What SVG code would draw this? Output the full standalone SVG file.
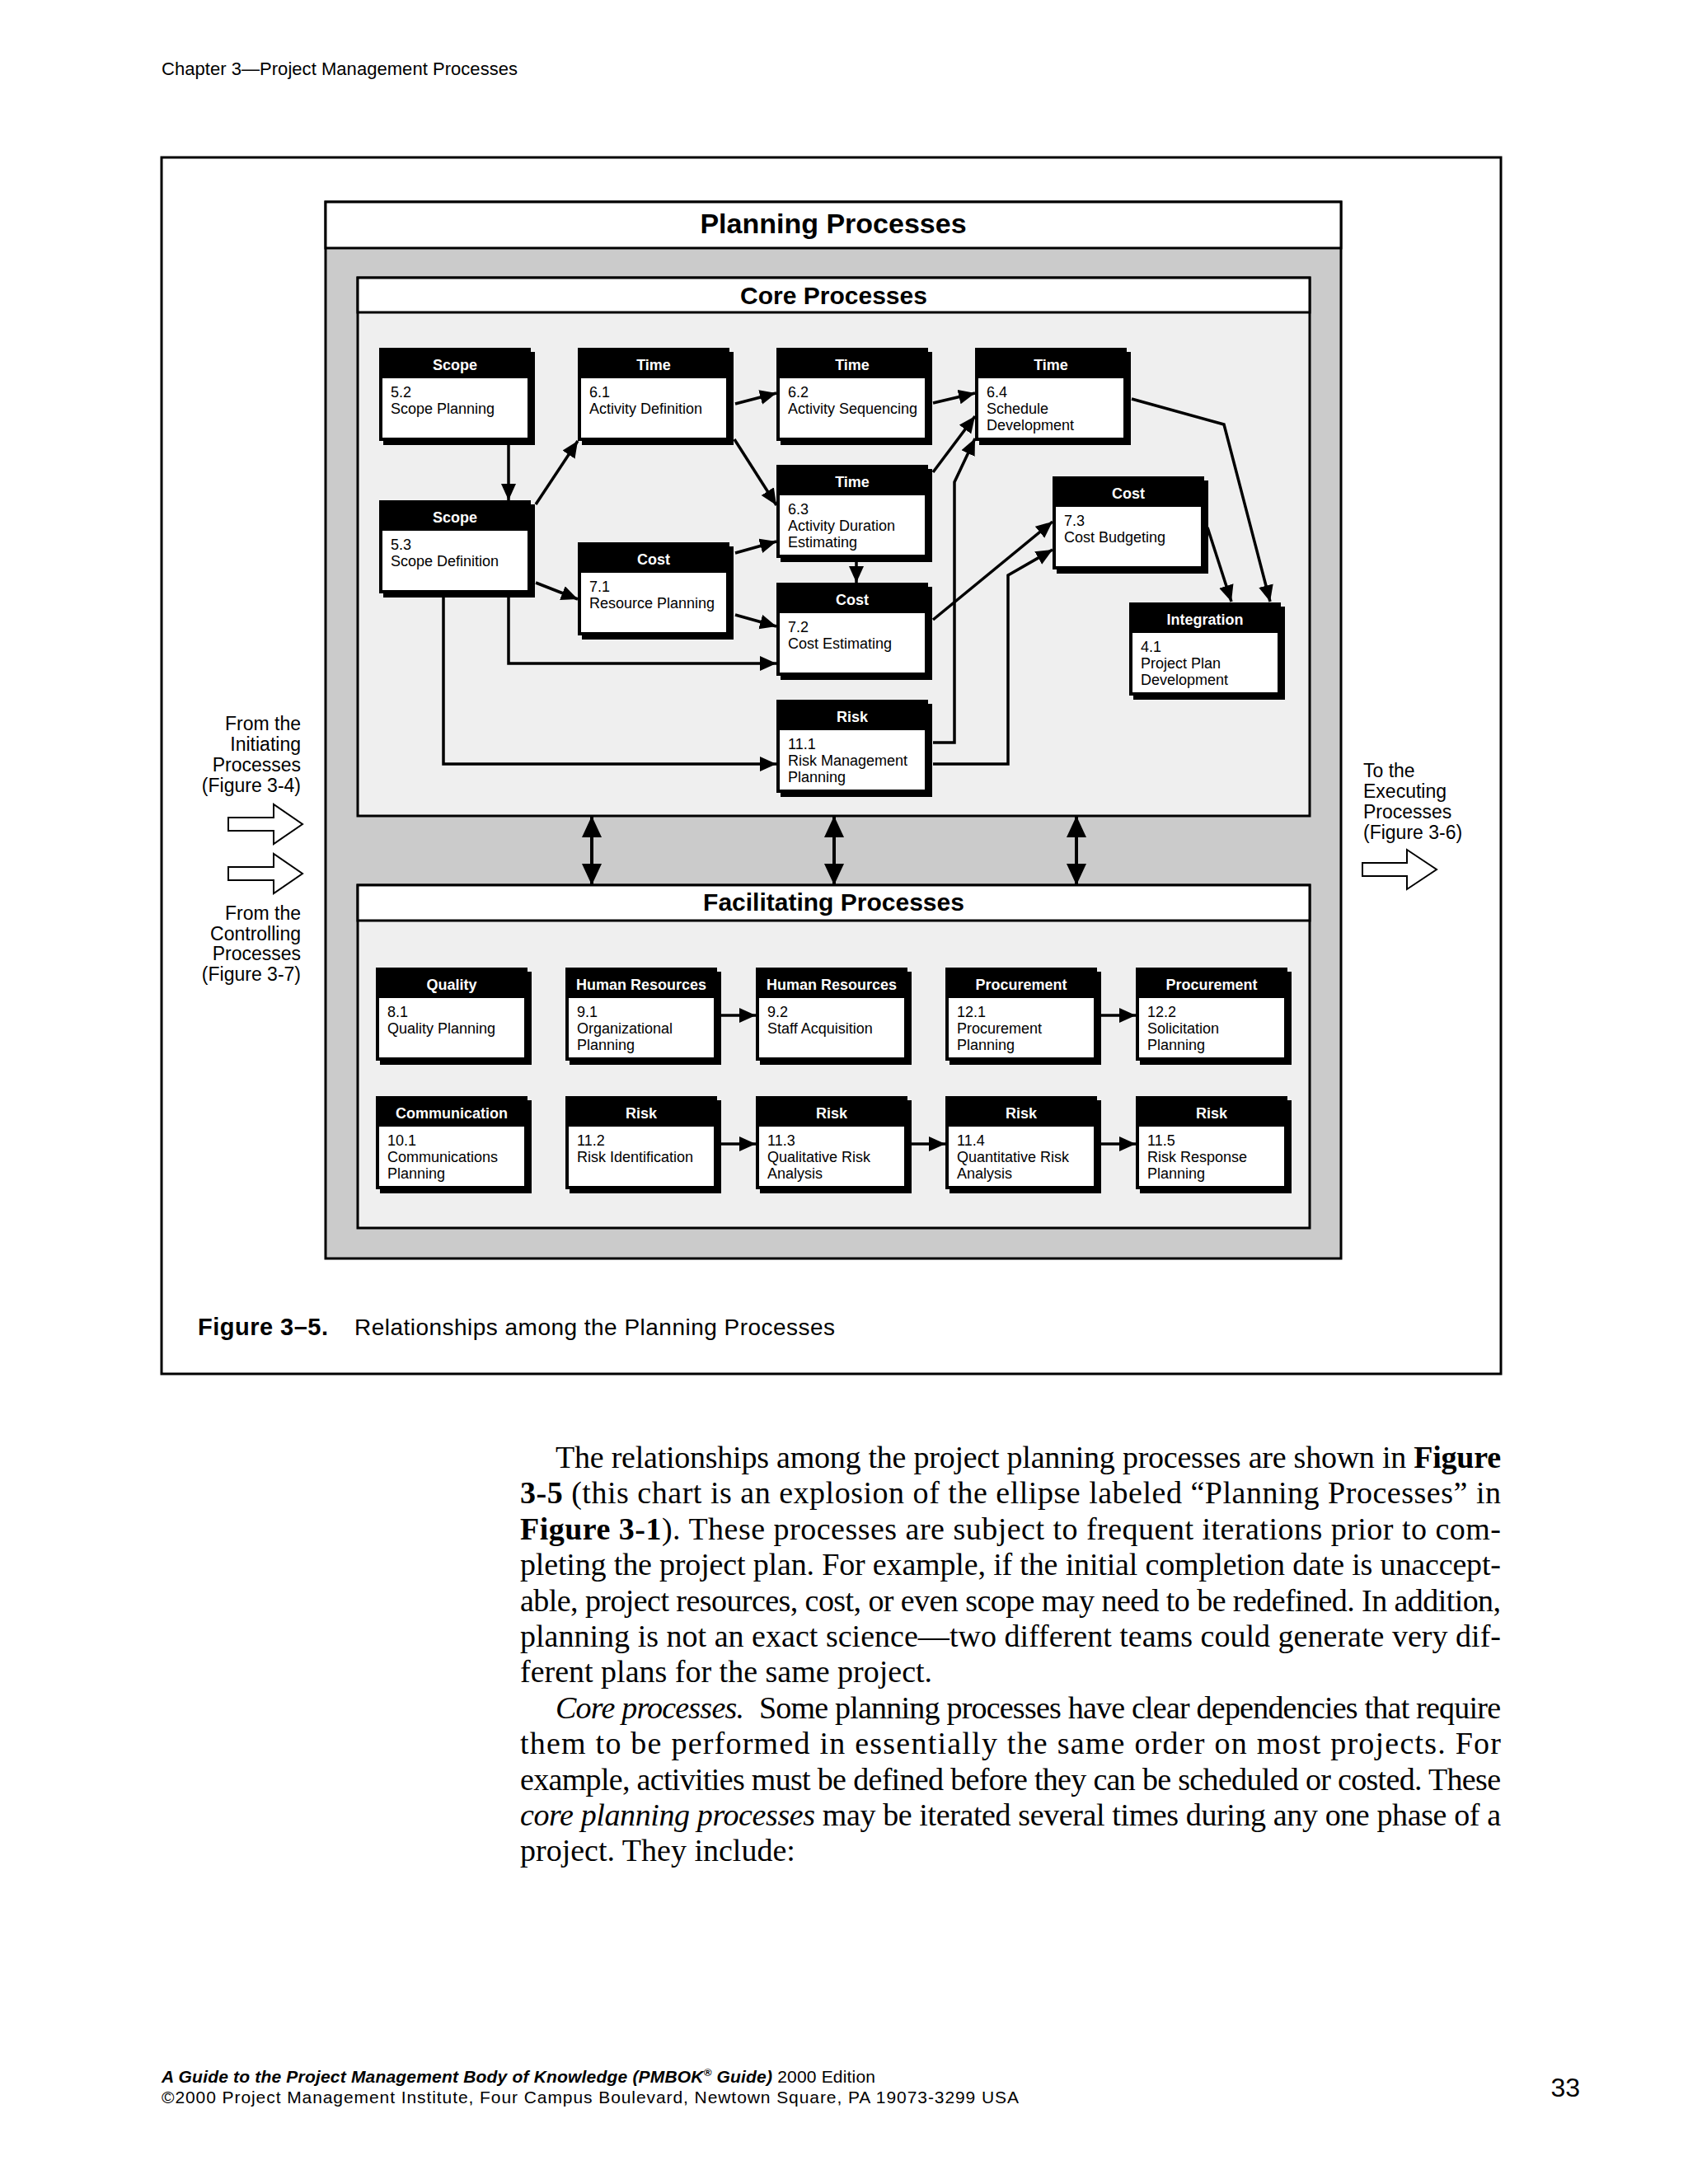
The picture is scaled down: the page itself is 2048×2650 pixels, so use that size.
<svg xmlns="http://www.w3.org/2000/svg" width="2048" height="2650" viewBox="0 0 2048 2650">
<style>
.sans{font-family:"Liberation Sans",Arial,sans-serif}
.hdr{font-family:"Liberation Sans",Arial,sans-serif;font-weight:bold;font-size:18px;fill:#fff;text-anchor:middle}
.bt{font-family:"Liberation Sans",Arial,sans-serif;font-size:18px;fill:#000}
.sh{fill:#000}
.fr{fill:#000}
.bd{fill:#fff}
.conn{stroke:#000;stroke-width:3.5;fill:none;stroke-linejoin:miter}
.arr{marker-end:url(#ah)}
.dbl{stroke:#000;stroke-width:4;fill:none;marker-start:url(#bh);marker-end:url(#bh)}
.blk{fill:#fff;stroke:#000;stroke-width:2}
.lbl{font-family:"Liberation Sans",Arial,sans-serif;font-size:23px;fill:#000}
.body{font-family:"Liberation Serif","Times New Roman",serif;font-size:38px;fill:#000}
.ttl{font-family:"Liberation Sans",Arial,sans-serif;font-weight:bold;fill:#000;text-anchor:middle}
</style>
<defs>
<marker id="ah" markerUnits="userSpaceOnUse" markerWidth="22" markerHeight="20" refX="20" refY="9" orient="auto">
<path d="M0,0 L20,9 L0,18 Z" fill="#000"/>
</marker>
<marker id="bh" markerUnits="userSpaceOnUse" markerWidth="28" markerHeight="26" refX="26" refY="12" orient="auto-start-reverse">
<path d="M0,0 L26,12 L0,24 Z" fill="#000"/>
</marker>
</defs>
<rect width="2048" height="2650" fill="#fff"/>

<text class="sans" x="196" y="91" font-size="22" textLength="432">Chapter 3—Project Management Processes</text>

<rect x="196" y="191" width="1625" height="1476" fill="none" stroke="#000" stroke-width="3"/>

<g id="planning">
<rect x="395" y="245" width="1232" height="1282" fill="#cbcbcb" stroke="#000" stroke-width="3"/>
<rect x="395" y="245" width="1232" height="56" fill="#fff" stroke="#000" stroke-width="3"/>
<text class="ttl" x="1011" y="283" font-size="34">Planning Processes</text>
</g>
<g id="core">
<rect x="434" y="337" width="1155" height="653" fill="#efefef" stroke="#000" stroke-width="3"/>
<rect x="434" y="337" width="1155" height="42" fill="#fff" stroke="#000" stroke-width="3"/>
<text class="ttl" x="1011.5" y="369" font-size="30">Core Processes</text>
</g>
<g id="facilitating">
<rect x="434" y="1074" width="1155" height="416" fill="#efefef" stroke="#000" stroke-width="3"/>
<rect x="434" y="1074" width="1155" height="43" fill="#fff" stroke="#000" stroke-width="3"/>
<text class="ttl" x="1011.5" y="1105" font-size="30">Facilitating Processes</text>
</g>

<g id="n5_2" transform="translate(460,422)"><rect class="sh" x="5" y="5" width="184" height="113"/><rect class="fr" width="184" height="113"/><rect class="bd" x="4" y="37" width="176" height="72"/><text class="hdr" x="92" y="27">Scope</text><text class="bt" x="14" y="60">5.2</text><text class="bt" x="14" y="80">Scope Planning</text></g>
<g id="n6_1" transform="translate(701,422)"><rect class="sh" x="5" y="5" width="184" height="113"/><rect class="fr" width="184" height="113"/><rect class="bd" x="4" y="37" width="176" height="72"/><text class="hdr" x="92" y="27">Time</text><text class="bt" x="14" y="60">6.1</text><text class="bt" x="14" y="80">Activity Definition</text></g>
<g id="n6_2" transform="translate(942,422)"><rect class="sh" x="5" y="5" width="184" height="113"/><rect class="fr" width="184" height="113"/><rect class="bd" x="4" y="37" width="176" height="72"/><text class="hdr" x="92" y="27">Time</text><text class="bt" x="14" y="60">6.2</text><text class="bt" x="14" y="80">Activity Sequencing</text></g>
<g id="n6_4" transform="translate(1183,422)"><rect class="sh" x="5" y="5" width="184" height="113"/><rect class="fr" width="184" height="113"/><rect class="bd" x="4" y="37" width="176" height="72"/><text class="hdr" x="92" y="27">Time</text><text class="bt" x="14" y="60">6.4</text><text class="bt" x="14" y="80">Schedule</text><text class="bt" x="14" y="100">Development</text></g>
<g id="n6_3" transform="translate(942,564)"><rect class="sh" x="5" y="5" width="184" height="113"/><rect class="fr" width="184" height="113"/><rect class="bd" x="4" y="37" width="176" height="72"/><text class="hdr" x="92" y="27">Time</text><text class="bt" x="14" y="60">6.3</text><text class="bt" x="14" y="80">Activity Duration</text><text class="bt" x="14" y="100">Estimating</text></g>
<g id="n5_3" transform="translate(460,607)"><rect class="sh" x="5" y="5" width="184" height="113"/><rect class="fr" width="184" height="113"/><rect class="bd" x="4" y="37" width="176" height="72"/><text class="hdr" x="92" y="27">Scope</text><text class="bt" x="14" y="60">5.3</text><text class="bt" x="14" y="80">Scope Definition</text></g>
<g id="n7_1" transform="translate(701,658)"><rect class="sh" x="5" y="5" width="184" height="113"/><rect class="fr" width="184" height="113"/><rect class="bd" x="4" y="37" width="176" height="72"/><text class="hdr" x="92" y="27">Cost</text><text class="bt" x="14" y="60">7.1</text><text class="bt" x="14" y="80">Resource Planning</text></g>
<g id="n7_3" transform="translate(1277,578)"><rect class="sh" x="5" y="5" width="184" height="113"/><rect class="fr" width="184" height="113"/><rect class="bd" x="4" y="37" width="176" height="72"/><text class="hdr" x="92" y="27">Cost</text><text class="bt" x="14" y="60">7.3</text><text class="bt" x="14" y="80">Cost Budgeting</text></g>
<g id="n7_2" transform="translate(942,707)"><rect class="sh" x="5" y="5" width="184" height="113"/><rect class="fr" width="184" height="113"/><rect class="bd" x="4" y="37" width="176" height="72"/><text class="hdr" x="92" y="27">Cost</text><text class="bt" x="14" y="60">7.2</text><text class="bt" x="14" y="80">Cost Estimating</text></g>
<g id="n4_1" transform="translate(1370,731)"><rect class="sh" x="5" y="5" width="184" height="113"/><rect class="fr" width="184" height="113"/><rect class="bd" x="4" y="37" width="176" height="72"/><text class="hdr" x="92" y="27">Integration</text><text class="bt" x="14" y="60">4.1</text><text class="bt" x="14" y="80">Project Plan</text><text class="bt" x="14" y="100">Development</text></g>
<g id="n11_1" transform="translate(942,849)"><rect class="sh" x="5" y="5" width="184" height="113"/><rect class="fr" width="184" height="113"/><rect class="bd" x="4" y="37" width="176" height="72"/><text class="hdr" x="92" y="27">Risk</text><text class="bt" x="14" y="60">11.1</text><text class="bt" x="14" y="80">Risk Management</text><text class="bt" x="14" y="100">Planning</text></g>

<g id="n8_1" transform="translate(456,1174)"><rect class="sh" x="5" y="5" width="184" height="113"/><rect class="fr" width="184" height="113"/><rect class="bd" x="4" y="37" width="176" height="72"/><text class="hdr" x="92" y="27">Quality</text><text class="bt" x="14" y="60">8.1</text><text class="bt" x="14" y="80">Quality Planning</text></g>
<g id="n9_1" transform="translate(686,1174)"><rect class="sh" x="5" y="5" width="184" height="113"/><rect class="fr" width="184" height="113"/><rect class="bd" x="4" y="37" width="176" height="72"/><text class="hdr" x="92" y="27">Human Resources</text><text class="bt" x="14" y="60">9.1</text><text class="bt" x="14" y="80">Organizational</text><text class="bt" x="14" y="100">Planning</text></g>
<g id="n9_2" transform="translate(917,1174)"><rect class="sh" x="5" y="5" width="184" height="113"/><rect class="fr" width="184" height="113"/><rect class="bd" x="4" y="37" width="176" height="72"/><text class="hdr" x="92" y="27">Human Resources</text><text class="bt" x="14" y="60">9.2</text><text class="bt" x="14" y="80">Staff Acquisition</text></g>
<g id="n12_1" transform="translate(1147,1174)"><rect class="sh" x="5" y="5" width="184" height="113"/><rect class="fr" width="184" height="113"/><rect class="bd" x="4" y="37" width="176" height="72"/><text class="hdr" x="92" y="27">Procurement</text><text class="bt" x="14" y="60">12.1</text><text class="bt" x="14" y="80">Procurement</text><text class="bt" x="14" y="100">Planning</text></g>
<g id="n12_2" transform="translate(1378,1174)"><rect class="sh" x="5" y="5" width="184" height="113"/><rect class="fr" width="184" height="113"/><rect class="bd" x="4" y="37" width="176" height="72"/><text class="hdr" x="92" y="27">Procurement</text><text class="bt" x="14" y="60">12.2</text><text class="bt" x="14" y="80">Solicitation</text><text class="bt" x="14" y="100">Planning</text></g>
<g id="n10_1" transform="translate(456,1330)"><rect class="sh" x="5" y="5" width="184" height="113"/><rect class="fr" width="184" height="113"/><rect class="bd" x="4" y="37" width="176" height="72"/><text class="hdr" x="92" y="27">Communication</text><text class="bt" x="14" y="60">10.1</text><text class="bt" x="14" y="80">Communications</text><text class="bt" x="14" y="100">Planning</text></g>
<g id="n11_2" transform="translate(686,1330)"><rect class="sh" x="5" y="5" width="184" height="113"/><rect class="fr" width="184" height="113"/><rect class="bd" x="4" y="37" width="176" height="72"/><text class="hdr" x="92" y="27">Risk</text><text class="bt" x="14" y="60">11.2</text><text class="bt" x="14" y="80">Risk Identification</text></g>
<g id="n11_3" transform="translate(917,1330)"><rect class="sh" x="5" y="5" width="184" height="113"/><rect class="fr" width="184" height="113"/><rect class="bd" x="4" y="37" width="176" height="72"/><text class="hdr" x="92" y="27">Risk</text><text class="bt" x="14" y="60">11.3</text><text class="bt" x="14" y="80">Qualitative Risk</text><text class="bt" x="14" y="100">Analysis</text></g>
<g id="n11_4" transform="translate(1147,1330)"><rect class="sh" x="5" y="5" width="184" height="113"/><rect class="fr" width="184" height="113"/><rect class="bd" x="4" y="37" width="176" height="72"/><text class="hdr" x="92" y="27">Risk</text><text class="bt" x="14" y="60">11.4</text><text class="bt" x="14" y="80">Quantitative Risk</text><text class="bt" x="14" y="100">Analysis</text></g>
<g id="n11_5" transform="translate(1378,1330)"><rect class="sh" x="5" y="5" width="184" height="113"/><rect class="fr" width="184" height="113"/><rect class="bd" x="4" y="37" width="176" height="72"/><text class="hdr" x="92" y="27">Risk</text><text class="bt" x="14" y="60">11.5</text><text class="bt" x="14" y="80">Risk Response</text><text class="bt" x="14" y="100">Planning</text></g>

<g id="connectors">
<path class="conn arr" d="M617,538 L617,607"/>
<path class="conn arr" d="M650,612 L701,535"/>
<path class="conn arr" d="M892,490 L942,477"/>
<path class="conn arr" d="M891,533 L942,613"/>
<path class="conn arr" d="M892,671 L942,657"/>
<path class="conn arr" d="M650,707 L701,727"/>
<path class="conn arr" d="M892,746 L942,760"/>
<path class="conn arr" d="M617,723 L617,805 L942,805"/>
<path class="conn arr" d="M538,723 L538,927 L942,927"/>
<path class="conn arr" d="M1132,489 L1183,477"/>
<path class="conn arr" d="M1132,573 L1183,505"/>
<path class="conn arr" d="M1132,901 L1158,901 L1158,585 L1183,532"/>
<path class="conn arr" d="M1373,484 L1485,515 L1541,730"/>
<path class="conn arr" d="M1465,640 L1494,730"/>
<path class="conn arr" d="M1132,752 L1277,633"/>
<path class="conn arr" d="M1132,927 L1223,927 L1223,698 L1277,667"/>
<path class="conn arr" d="M1039,680 L1039,707"/>
<path class="conn arr" d="M875,1232 L917,1232"/>
<path class="conn arr" d="M1336,1232 L1378,1232"/>
<path class="conn arr" d="M875,1388 L917,1388"/>
<path class="conn arr" d="M1106,1388 L1147,1388"/>
<path class="conn arr" d="M1336,1388 L1378,1388"/>
<path class="dbl" d="M718,990 L718,1074"/>
<path class="dbl" d="M1012,990 L1012,1074"/>
<path class="dbl" d="M1306,990 L1306,1074"/>
<polygon class="blk" points="277,992 332,992 332,976 367,1000 332,1024 332,1008 277,1008"/>
<polygon class="blk" points="277,1052 332,1052 332,1036 367,1060 332,1084 332,1068 277,1068"/>
<polygon class="blk" points="1653,1047 1707,1047 1707,1031 1743,1055 1707,1079 1707,1063 1653,1063"/>
</g>

<g id="labels">
<text class="lbl" text-anchor="end"><tspan x="365" y="886">From the</tspan><tspan x="365" y="911">Initiating</tspan><tspan x="365" y="936">Processes</tspan><tspan x="365" y="961">(Figure 3-4)</tspan></text>
<text class="lbl" text-anchor="end"><tspan x="365" y="1116">From the</tspan><tspan x="365" y="1141">Controlling</tspan><tspan x="365" y="1165">Processes</tspan><tspan x="365" y="1190">(Figure 3-7)</tspan></text>
<text class="lbl"><tspan x="1654" y="943">To the</tspan><tspan x="1654" y="968">Executing</tspan><tspan x="1654" y="993">Processes</tspan><tspan x="1654" y="1018">(Figure 3-6)</tspan></text>
</g>

<text class="sans" x="240" y="1620" font-size="29" font-weight="bold" textLength="158">Figure 3–5.</text>
<text class="sans" x="430" y="1620" font-size="28" textLength="583">Relationships among the Planning Processes</text>

<g id="bodytext" class="body">
<text x="674" y="1781" textLength="1147">The relationships among the project planning processes are shown in <tspan font-weight="bold">Figure</tspan></text>
<text x="631" y="1824" textLength="1190"><tspan font-weight="bold">3-5</tspan> (this chart is an explosion of the ellipse labeled “Planning Processes” in</text>
<text x="631" y="1868" textLength="1190"><tspan font-weight="bold">Figure 3-1</tspan>). These processes are subject to frequent iterations prior to com-</text>
<text x="631" y="1911" textLength="1190">pleting the project plan. For example, if the initial completion date is unaccept-</text>
<text x="631" y="1955" textLength="1190">able, project resources, cost, or even scope may need to be redefined. In addition,</text>
<text x="631" y="1998" textLength="1190">planning is not an exact science—two different teams could generate very dif-</text>
<text x="631" y="2041">ferent plans for the same project.</text>
<text x="674" y="2085" textLength="1147"><tspan font-style="italic">Core processes.</tspan> <tspan dx="10">Some planning processes have clear dependencies that require</tspan></text>
<text x="631" y="2128" textLength="1190">them to be performed in essentially the same order on most projects. For</text>
<text x="631" y="2172" textLength="1190">example, activities must be defined before they can be scheduled or costed. These</text>
<text x="631" y="2215" textLength="1190"><tspan font-style="italic">core planning processes</tspan> may be iterated several times during any one phase of a</text>
<text x="631" y="2258">project. They include:</text>
</g>

<text class="sans" x="196" y="2527" font-size="21" textLength="866"><tspan font-weight="bold" font-style="italic">A Guide to the Project Management Body of Knowledge (PMBOK<tspan font-size="13" dy="-8">®</tspan><tspan dy="8"> Guide)</tspan></tspan> 2000 Edition</text>
<text class="sans" x="196" y="2552" font-size="21" textLength="1040">©2000 Project Management Institute, Four Campus Boulevard, Newtown Square, PA 19073-3299 USA</text>
<text class="sans" x="1917" y="2544" font-size="32" text-anchor="end">33</text>
</svg>
